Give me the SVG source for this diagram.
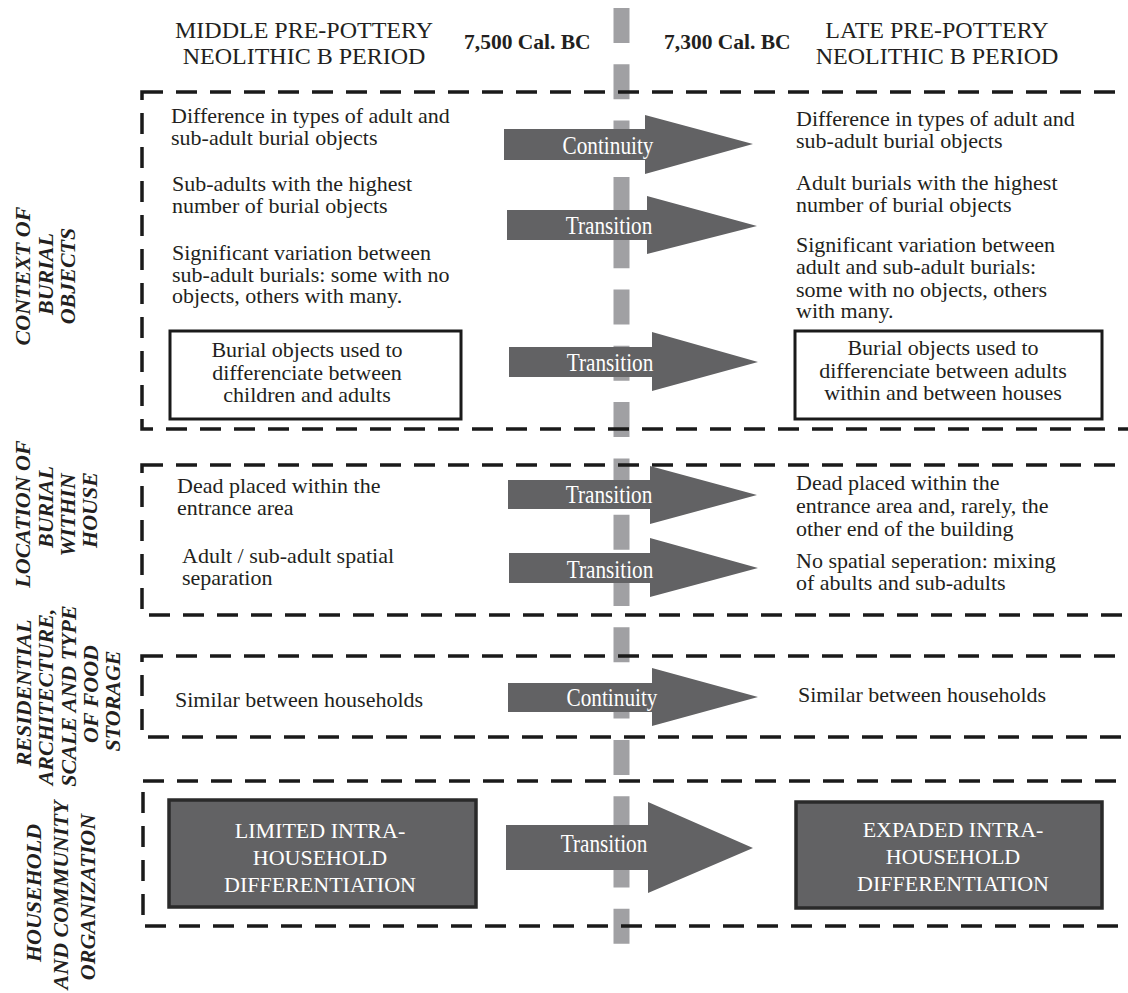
<svg xmlns="http://www.w3.org/2000/svg" width="1128" height="993" viewBox="0 0 1128 993">
<style>
  text { font-family: "Liberation Serif", "Times New Roman", serif; fill: #231f20; }
  .hdr { font-size: 24px; text-anchor: middle; }
  .date { font-size: 21.5px; font-weight: bold; }
  .body { font-size: 22px; }
  .ctr { text-anchor: middle; }
  .lab { font-size: 22px; font-weight: bold; font-style: italic; text-anchor: middle; }
  .atx { font-size: 25px; fill: #ffffff; text-anchor: middle; }
  .wtx { font-size: 22px; fill: #ffffff; text-anchor: middle; }
  .sec { fill: none; stroke: #1a1a1a; stroke-width: 3.5; stroke-dasharray: 21 13; }
  .box { fill: #ffffff; stroke: #1a1a1a; stroke-width: 3; }
  .dbox { fill: #626264; stroke: #2a2a2a; stroke-width: 3.5; }
  .arrow { fill: #626264; }
  .axis { stroke: #a0a0a3; stroke-width: 16; stroke-dasharray: 35 21.3; fill: none; }
</style>

<g id="timeline">
  <line class="axis" x1="621.5" y1="8" x2="621.5" y2="944"/>
</g>

<g id="sections">
  <rect id="sec-burial-objects" class="sec" x="142" y="92" width="1010" height="337"/>
  <rect id="sec-location" class="sec" x="142" y="465" width="1010" height="150"/>
  <rect id="sec-residential" class="sec" x="142" y="656" width="1010" height="81"/>
  <rect id="sec-household" class="sec" x="143" y="781" width="1010" height="145"/>
</g>

<g id="header-middle">
  <text class="hdr"><tspan x="304" y="38">MIDDLE PRE-POTTERY</tspan><tspan x="304" y="64">NEOLITHIC B PERIOD</tspan></text>
</g>
<g id="header-late">
  <text class="hdr"><tspan x="937" y="38">LATE PRE-POTTERY</tspan><tspan x="937" y="64">NEOLITHIC B PERIOD</tspan></text>
</g>
<g id="date-7500">
  <text class="date" x="464" y="49">7,500 Cal. BC</text>
</g>
<g id="date-7300">
  <text class="date" x="664" y="49">7,300 Cal. BC</text>
</g>

<g id="label-context">
  <text class="lab" transform="rotate(-90)"><tspan x="-276" y="30">CONTEXT OF</tspan><tspan x="-274" y="53">BURIAL</tspan><tspan x="-276" y="75">OBJECTS</tspan></text>
</g>
<g id="label-location">
  <text class="lab" transform="rotate(-90)"><tspan x="-514" y="30">LOCATION OF</tspan><tspan x="-507" y="53">BURIAL</tspan><tspan x="-515" y="75">WITHIN</tspan><tspan x="-510" y="97">HOUSE</tspan></text>
</g>
<g id="label-residential">
  <text class="lab" transform="rotate(-90)"><tspan x="-693" y="31">RESIDENTIAL</tspan><tspan x="-697" y="53">ARCHITECTURE,</tspan><tspan x="-696" y="76">SCALE AND TYPE</tspan><tspan x="-694" y="98">OF FOOD</tspan><tspan x="-701" y="120">STORAGE</tspan></text>
</g>
<g id="label-household">
  <text class="lab" transform="rotate(-90)"><tspan x="-893" y="41">HOUSEHOLD</tspan><tspan x="-895" y="68">AND COMMUNITY</tspan><tspan x="-897" y="95">ORGANIZATION</tspan></text>
</g>

<!-- Section 1 left -->
<g id="mid-types">
  <text class="body"><tspan x="171" y="123">Difference in types of adult and</tspan><tspan x="171" y="145">sub-adult burial objects</tspan></text>
</g>
<g id="mid-subadults">
  <text class="body"><tspan x="172" y="191">Sub-adults with the highest</tspan><tspan x="172" y="213">number of burial objects</tspan></text>
</g>
<g id="mid-variation">
  <text class="body"><tspan x="172" y="260">Significant variation between</tspan><tspan x="172" y="282">sub-adult burials: some with no</tspan><tspan x="172" y="303">objects, others with many.</tspan></text>
</g>
<g id="mid-objects-box">
  <rect class="box" x="170" y="331" width="291" height="88"/>
  <text class="body ctr"><tspan x="307" y="357">Burial objects used to</tspan><tspan x="307" y="380">differenciate between</tspan><tspan x="307" y="402">children and adults</tspan></text>
</g>

<!-- Section 1 right -->
<g id="late-types">
  <text class="body"><tspan x="796" y="126">Difference in types of adult and</tspan><tspan x="796" y="148">sub-adult burial objects</tspan></text>
</g>
<g id="late-adults">
  <text class="body"><tspan x="796" y="190">Adult burials with the highest</tspan><tspan x="796" y="212">number of burial objects</tspan></text>
</g>
<g id="late-variation">
  <text class="body"><tspan x="796" y="252">Significant variation between</tspan><tspan x="796" y="274">adult and sub-adult burials:</tspan><tspan x="796" y="297">some with no objects, others</tspan><tspan x="796" y="318">with many.</tspan></text>
</g>
<g id="late-objects-box">
  <rect class="box" x="795" y="331" width="307" height="88"/>
  <text class="body ctr"><tspan x="943" y="355">Burial objects used to</tspan><tspan x="943" y="378">differenciate between adults</tspan><tspan x="943" y="400">within and between houses</tspan></text>
</g>

<!-- Section 2 -->
<g id="mid-entrance">
  <text class="body"><tspan x="177" y="493">Dead placed within the</tspan><tspan x="177" y="515">entrance area</tspan></text>
</g>
<g id="mid-separation">
  <text class="body"><tspan x="182" y="563">Adult / sub-adult spatial</tspan><tspan x="182" y="585">separation</tspan></text>
</g>
<g id="late-entrance">
  <text class="body"><tspan x="796" y="490">Dead placed within the</tspan><tspan x="796" y="513">entrance area and, rarely, the</tspan><tspan x="796" y="536">other end of the building</tspan></text>
</g>
<g id="late-separation">
  <text class="body"><tspan x="796" y="568">No spatial seperation: mixing</tspan><tspan x="796" y="590">of abults and sub-adults</tspan></text>
</g>

<!-- Section 3 -->
<g id="mid-similar">
  <text class="body" x="175" y="707">Similar between households</text>
</g>
<g id="late-similar">
  <text class="body" x="798" y="702">Similar between households</text>
</g>

<!-- Section 4 -->
<g id="mid-household-box">
  <rect class="dbox" x="169" y="800" width="307" height="107"/>
  <text class="wtx"><tspan x="320" y="838">LIMITED INTRA-</tspan><tspan x="320" y="865">HOUSEHOLD</tspan><tspan x="320" y="892">DIFFERENTIATION</tspan></text>
</g>
<g id="late-household-box">
  <rect class="dbox" x="796" y="802" width="306" height="106"/>
  <text class="wtx"><tspan x="953" y="837">EXPADED INTRA-</tspan><tspan x="953" y="864">HOUSEHOLD</tspan><tspan x="953" y="891">DIFFERENTIATION</tspan></text>
</g>

<g id="connectors">
  <g id="arrow-continuity-1">
    <polygon class="arrow" points="504,129 645,129 645,115 753,144 645,174 645,160 504,160"/>
    <text class="atx" transform="translate(608 154) scale(0.85 1)">Continuity</text>
  </g>
  <g id="arrow-transition-1">
    <polygon class="arrow" points="507,210 647,210 647,196 757,226 647,254 647,240 507,240"/>
    <text class="atx" transform="translate(609 234) scale(0.85 1)">Transition</text>
  </g>
  <g id="arrow-transition-2">
    <polygon class="arrow" points="509,347 652,347 652,332 758,362 652,391 652,377 509,377"/>
    <text class="atx" transform="translate(610 371) scale(0.85 1)">Transition</text>
  </g>
  <g id="arrow-transition-3">
    <polygon class="arrow" points="508,480 650,480 650,466 757,495 650,524 650,509 508,509"/>
    <text class="atx" transform="translate(609 503) scale(0.85 1)">Transition</text>
  </g>
  <g id="arrow-transition-4">
    <polygon class="arrow" points="509,553 650,553 650,538 758,568 650,597 650,583 509,583"/>
    <text class="atx" transform="translate(610 578) scale(0.85 1)">Transition</text>
  </g>
  <g id="arrow-continuity-2">
    <polygon class="arrow" points="508,683 652,683 652,668 758,697 652,726 652,712 508,712"/>
    <text class="atx" transform="translate(612 706) scale(0.85 1)">Continuity</text>
  </g>
  <g id="arrow-transition-5">
    <polygon class="arrow" points="506,825 648,825 648,802 753,848 648,893 648,870 506,870"/>
    <text class="atx" transform="translate(604 852) scale(0.85 1)">Transition</text>
  </g>
</g>
</svg>
